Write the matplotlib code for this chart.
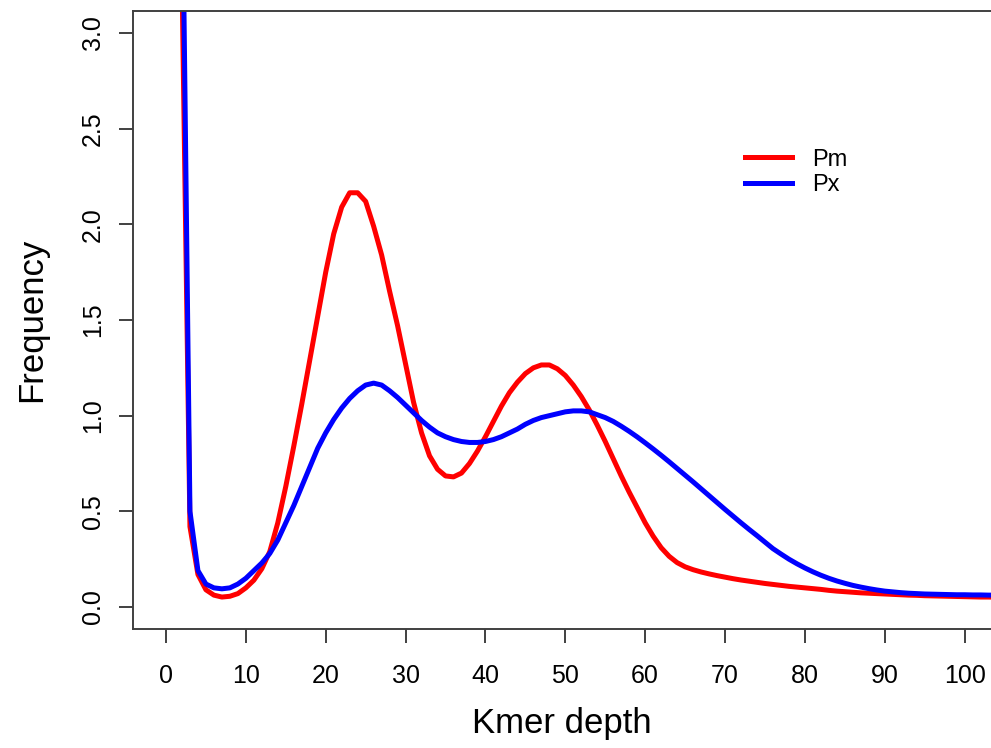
import numpy as np
import matplotlib.pyplot as plt

plt.rcParams['font.family'] = ['Liberation Sans', 'DejaVu Sans']

# kmer depth 1..104
depth = list(range(1, 105))

pm = [40, 3.3, 0.42, 0.17, 0.09, 0.062, 0.052, 0.056, 0.07, 0.1,
      0.14, 0.2, 0.29, 0.44, 0.63, 0.84, 1.06, 1.29, 1.52, 1.75,
      1.95, 2.09, 2.165, 2.165, 2.12, 1.99, 1.84, 1.65, 1.47, 1.27,
      1.07, 0.91, 0.79, 0.72, 0.685, 0.68, 0.70, 0.75, 0.815, 0.89,
      0.97, 1.05, 1.12, 1.175, 1.22, 1.25, 1.265, 1.265, 1.245, 1.21,
      1.16, 1.10, 1.03, 0.95, 0.865, 0.775, 0.685, 0.60, 0.52, 0.44,
      0.37, 0.31, 0.265, 0.232, 0.21, 0.195, 0.183, 0.173, 0.164, 0.156,
      0.148, 0.141, 0.135, 0.129, 0.123, 0.118, 0.113, 0.108, 0.104, 0.1,
      0.096, 0.092, 0.087, 0.083, 0.08, 0.077, 0.074, 0.072, 0.07, 0.068,
      0.066, 0.064, 0.062, 0.061, 0.059, 0.058, 0.057, 0.056, 0.055, 0.054,
      0.053, 0.052, 0.052, 0.051]

px = [40, 4.0, 0.50, 0.19, 0.12, 0.10, 0.095, 0.10, 0.12, 0.15,
      0.19, 0.23, 0.28, 0.35, 0.44, 0.53, 0.63, 0.73, 0.83, 0.91,
      0.98, 1.04, 1.09, 1.13, 1.16, 1.17, 1.16, 1.13, 1.095, 1.055,
      1.015, 0.975, 0.94, 0.91, 0.89, 0.875, 0.865, 0.86, 0.86, 0.865,
      0.875, 0.89, 0.91, 0.93, 0.955, 0.975, 0.99, 1.0, 1.01, 1.02,
      1.025, 1.025, 1.02, 1.005, 0.99, 0.97, 0.945, 0.918, 0.889, 0.858,
      0.826, 0.793, 0.759, 0.724, 0.689, 0.654, 0.618, 0.582, 0.546, 0.51,
      0.475, 0.44, 0.406, 0.373, 0.339, 0.305, 0.277, 0.25, 0.226, 0.204,
      0.184, 0.166, 0.15, 0.136, 0.124, 0.113, 0.104, 0.096, 0.089, 0.083,
      0.079, 0.075, 0.072, 0.07, 0.068, 0.067, 0.066, 0.065, 0.064, 0.064,
      0.063, 0.063, 0.062, 0.062]

xticks = list(range(0, 101, 10))
yticks = [0.0, 0.5, 1.0, 1.5, 2.0, 2.5, 3.0]

fig = plt.figure(figsize=(9.91, 7.48), dpi=100)
ax = fig.add_axes([133 / 991, 1 - 629 / 748, 1 - 133 / 991, (629 - 11) / 748])

ax.plot(depth, pm, color='red', lw=3.6, label='Pm', solid_joinstyle='round')
ax.plot(depth, px, color='blue', lw=3.6, label='Px', solid_joinstyle='round')

ax.set_xlim(-4.13, 103.3)
ax.set_ylim(-0.115, 3.115)

ax.set_xticks(xticks)
ax.set_yticks(yticks)
ax.set_yticklabels(['%.1f' % v for v in yticks], rotation=90, va='center')

for s in ['left', 'bottom', 'top']:
    ax.spines[s].set_color('#404040')
    ax.spines[s].set_linewidth(1.4)
ax.spines['right'].set_visible(False)

ax.tick_params(axis='both', direction='out', length=10, width=1.4,
               color='#404040', labelsize=18)
ax.tick_params(axis='x', pad=15)
ax.tick_params(axis='y', pad=10)

ax.set_xlabel('Kmer depth', fontsize=25, labelpad=14)
ax.set_ylabel('Frequency', fontsize=25, labelpad=24)

ax.legend(loc='center left', bbox_to_anchor=(0.713, 0.7387), frameon=False,
          fontsize=17, handlelength=2.0, handletextpad=0.85, labelspacing=0.15,
          borderpad=0, borderaxespad=0)

fig.savefig('out.png', dpi=100)
